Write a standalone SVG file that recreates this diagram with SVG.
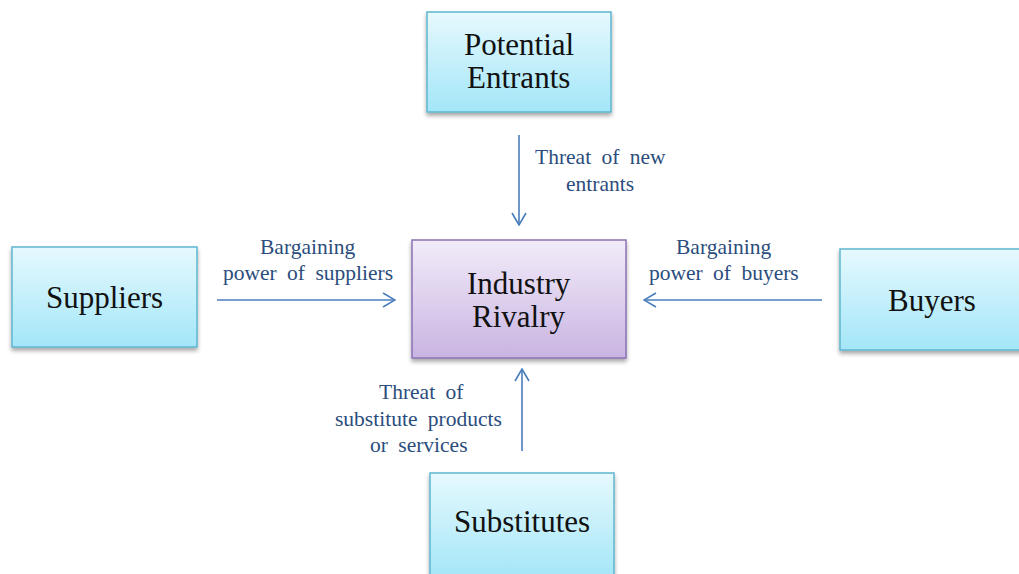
<svg xmlns="http://www.w3.org/2000/svg" width="1019" height="574" viewBox="0 0 1019 574">
  <style>
    .box { stroke: #5fb6cf; stroke-width: 1.5; fill: url(#cyanFill); filter: url(#shadow); }
    .core { stroke: #8b72b4; stroke-width: 1.5; fill: url(#lilacFill); filter: url(#shadow); }
    .link { stroke: #4a7ebb; stroke-width: 1.6; fill: none; marker-end: url(#open); }
  </style>
  <defs>
    <linearGradient id="cyanFill" x1="0" y1="0" x2="0" y2="1">
      <stop offset="0" stop-color="#e6f9fe"/>
      <stop offset="1" stop-color="#a3e6f8"/>
    </linearGradient>
    <linearGradient id="lilacFill" x1="0" y1="0" x2="0" y2="1">
      <stop offset="0" stop-color="#f2ecf9"/>
      <stop offset="1" stop-color="#c9b4e2"/>
    </linearGradient>
    <filter id="shadow" x="-10%" y="-10%" width="120%" height="130%">
      <feGaussianBlur in="SourceAlpha" stdDeviation="2"/>
      <feOffset dx="0" dy="3"/>
      <feComponentTransfer><feFuncA type="linear" slope="0.35"/></feComponentTransfer>
      <feMerge><feMergeNode/><feMergeNode in="SourceGraphic"/></feMerge>
    </filter>
    <marker id="open" viewBox="0 0 14 16" refX="13" refY="8" markerWidth="14" markerHeight="16" markerUnits="userSpaceOnUse" orient="auto">
      <path d="M1,1 L13,8 L1,15" fill="none" stroke="#4a7ebb" stroke-width="1.6"/>
    </marker>
  </defs>
  <rect width="1019" height="574" fill="#ffffff"/>

  <!-- arrows into the centre box, each with its force label (start-aligned, x set per line) -->
  <g id="connectors">
    <line class="link" x1="519" y1="135" x2="519" y2="225"/>
    <line class="link" x1="217" y1="300" x2="395" y2="300"/>
    <line class="link" x1="822" y1="300" x2="644" y2="300"/>
    <line class="link" x1="522" y1="451" x2="522" y2="369"/>
    <text font-family="Liberation Serif" font-size="21.5" fill="#2b4d7d" word-spacing="5" x="535" y="164">Threat of new</text>
    <text font-family="Liberation Serif" font-size="21.5" fill="#2b4d7d" word-spacing="5" x="566" y="191">entrants</text>
    <text font-family="Liberation Serif" font-size="21.5" fill="#2b4d7d" word-spacing="5" x="260" y="254">Bargaining</text>
    <text font-family="Liberation Serif" font-size="21.5" fill="#2b4d7d" word-spacing="5" x="223" y="280">power of suppliers</text>
    <text font-family="Liberation Serif" font-size="21.5" fill="#2b4d7d" word-spacing="5" x="676" y="254">Bargaining</text>
    <text font-family="Liberation Serif" font-size="21.5" fill="#2b4d7d" word-spacing="5" x="649" y="280">power of buyers</text>
    <text font-family="Liberation Serif" font-size="21.5" fill="#2b4d7d" word-spacing="5" x="379" y="399">Threat of</text>
    <text font-family="Liberation Serif" font-size="21.5" fill="#2b4d7d" word-spacing="5" x="335" y="426">substitute products</text>
    <text font-family="Liberation Serif" font-size="21.5" fill="#2b4d7d" word-spacing="5" x="370" y="452">or services</text>
  </g>

  <g id="potential-entrants">
    <rect class="box" x="427" y="12" width="184" height="100"/>
    <text font-family="Liberation Serif" font-size="31" fill="#111111" x="464" y="55">Potential</text>
    <text font-family="Liberation Serif" font-size="31" fill="#111111" x="467" y="88">Entrants</text>
  </g>
  <g id="industry-rivalry">
    <rect class="core" x="412" y="240" width="214" height="118"/>
    <text font-family="Liberation Serif" font-size="31" fill="#111111" x="467" y="294">Industry</text>
    <text font-family="Liberation Serif" font-size="31" fill="#111111" x="472" y="327">Rivalry</text>
  </g>
  <g id="suppliers">
    <rect class="box" x="12" y="247" width="185" height="100"/>
    <text font-family="Liberation Serif" font-size="31" fill="#111111" x="46" y="308">Suppliers</text>
  </g>
  <g id="buyers">
    <rect class="box" x="840" y="249" width="186" height="101"/>
    <text font-family="Liberation Serif" font-size="31" fill="#111111" x="888" y="311">Buyers</text>
  </g>
  <g id="substitutes">
    <rect class="box" x="430" y="473" width="184" height="106"/>
    <text font-family="Liberation Serif" font-size="31" fill="#111111" x="454" y="532">Substitutes</text>
  </g>
</svg>
